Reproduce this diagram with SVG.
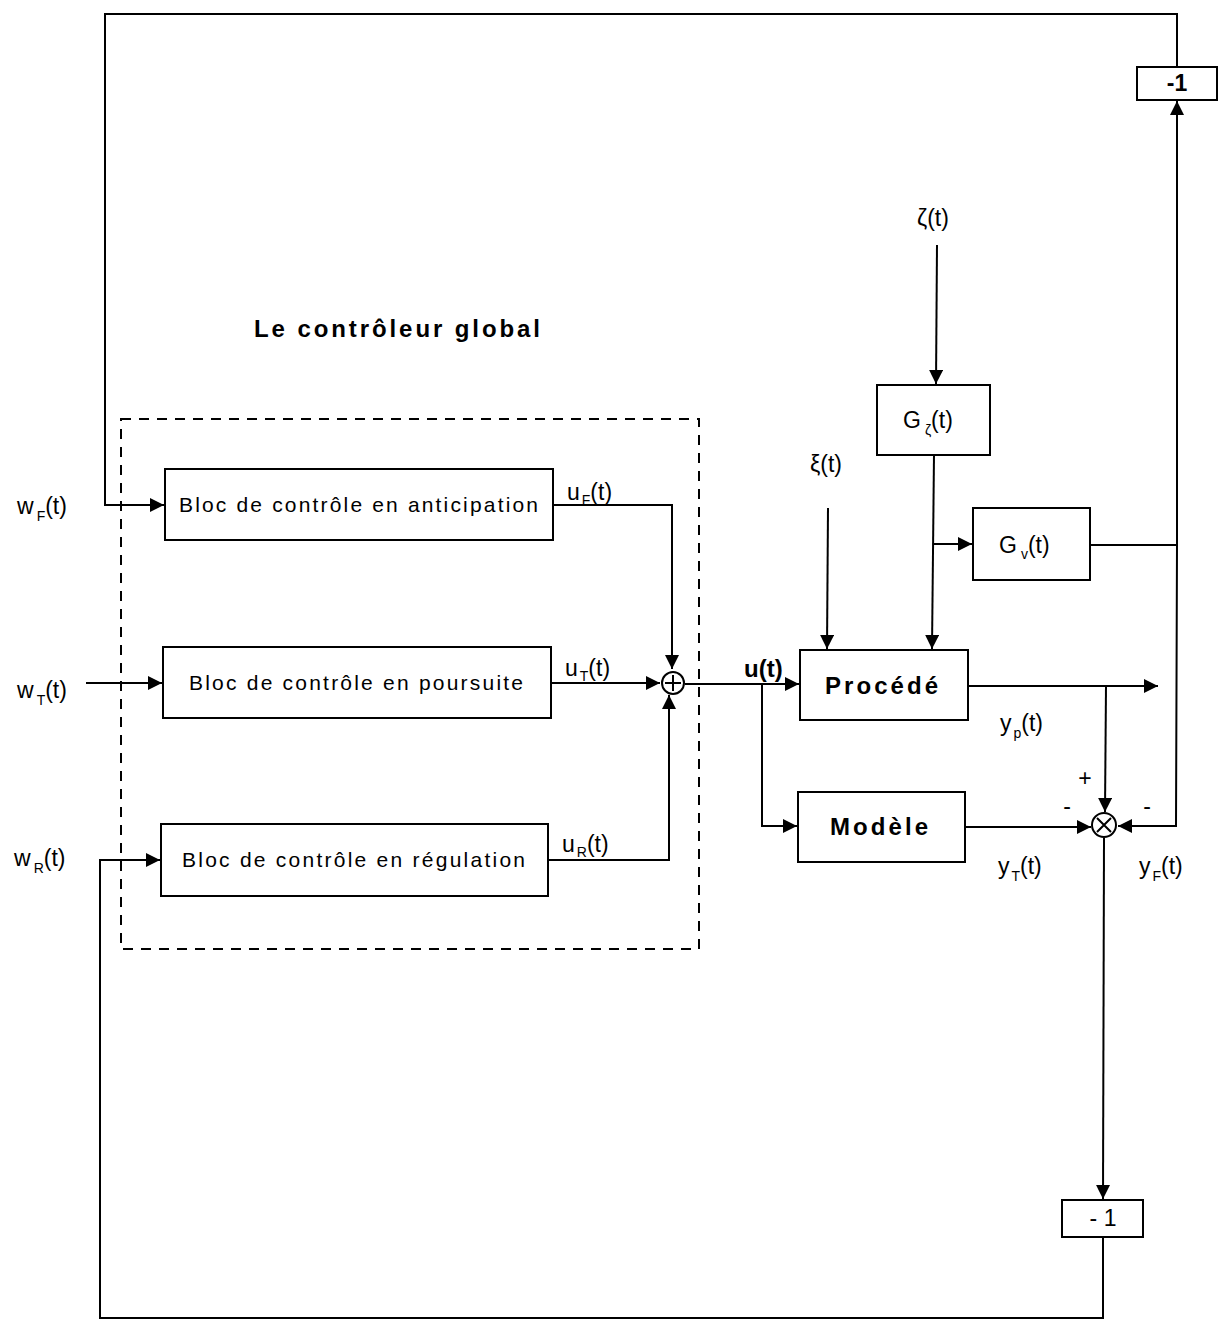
<svg xmlns="http://www.w3.org/2000/svg" width="1218" height="1323" viewBox="0 0 1218 1323">
<style>
.ln{fill:none;stroke:#000;stroke-width:2}
.bx{fill:#fff;stroke:#000;stroke-width:2}
.t{font-family:"Liberation Sans",Arial,sans-serif;font-size:23px;fill:#000}
.bt{font-family:"Liberation Sans",Arial,sans-serif;font-size:21px;fill:#000}
.b{font-family:"Liberation Sans",Arial,sans-serif;font-weight:bold;font-size:24px;fill:#000}
.s{font-size:14px}
</style>
<defs>
<marker id="a" viewBox="0 0 10 10" refX="10" refY="5" markerWidth="14" markerHeight="14" markerUnits="userSpaceOnUse" orient="auto">
<path d="M0,0 L10,5 L0,10 z" fill="#000"/>
</marker>
</defs>
<g id="connectors">
<polyline class="ln" points="1177,67 1177,14 105,14 105,505 164,505" marker-end="url(#a)"/>
<line class="ln" x1="86" y1="683" x2="162" y2="683" marker-end="url(#a)"/>
<polyline class="ln" points="1103,1237 1103,1318 100,1318 100,860 160,860" marker-end="url(#a)"/>
<polyline class="ln" points="553,505 672,505 672,669" marker-end="url(#a)"/>
<line class="ln" x1="551" y1="683" x2="660" y2="683" marker-end="url(#a)"/>
<polyline class="ln" points="548,860 669,860 669,695" marker-end="url(#a)"/>
<line class="ln" x1="685" y1="684" x2="799" y2="684" marker-end="url(#a)"/>
<polyline class="ln" points="762,684 762,826 797,826" marker-end="url(#a)"/>
<line class="ln" x1="937" y1="245" x2="936" y2="384" marker-end="url(#a)"/>
<line class="ln" x1="828" y1="508" x2="827" y2="649" marker-end="url(#a)"/>
<line class="ln" x1="934" y1="455" x2="932" y2="649" marker-end="url(#a)"/>
<line class="ln" x1="933" y1="544" x2="972" y2="544" marker-end="url(#a)"/>
<line class="ln" x1="1090" y1="545" x2="1176" y2="545"/>
<line class="ln" x1="1177" y1="545" x2="1177" y2="101" marker-end="url(#a)"/>
<polyline class="ln" points="1177,545 1176,826 1118,826" marker-end="url(#a)"/>
<line class="ln" x1="968" y1="686" x2="1158" y2="686" marker-end="url(#a)"/>
<line class="ln" x1="1106" y1="686" x2="1105" y2="812" marker-end="url(#a)"/>
<line class="ln" x1="965" y1="827" x2="1091" y2="827" marker-end="url(#a)"/>
<line class="ln" x1="1104" y1="838" x2="1103" y2="1199" marker-end="url(#a)"/>
</g>
<g id="controller">
<rect x="121" y="419" width="578" height="530" fill="none" stroke="#000" stroke-width="2" stroke-dasharray="10,8"/>
<text class="b" x="254" y="337" textLength="286" lengthAdjust="spacing">Le contrôleur global</text>
</g>
<g id="bloc-anticipation">
<rect class="bx" x="165" y="469" width="388" height="71"/>
<text class="bt" x="179" y="512" textLength="359" lengthAdjust="spacing">Bloc de contrôle en anticipation</text>
</g>
<g id="bloc-poursuite">
<rect class="bx" x="163" y="647" width="388" height="71"/>
<text class="bt" x="189" y="690" textLength="334" lengthAdjust="spacing">Bloc de contrôle en poursuite</text>
</g>
<g id="bloc-regulation">
<rect class="bx" x="161" y="824" width="387" height="72"/>
<text class="bt" x="182" y="867" textLength="343" lengthAdjust="spacing">Bloc de contrôle en régulation</text>
</g>
<g id="sum">
<circle cx="673" cy="683" r="11" fill="#fff" stroke="#000" stroke-width="2"/>
<path d="M673,675 V691 M665,683 H681" stroke="#000" stroke-width="2"/>
</g>
<g id="procede">
<rect class="bx" x="800" y="650" width="168" height="70"/>
<text class="b" x="825" y="694" textLength="113" lengthAdjust="spacing">Procédé</text>
</g>
<g id="modele">
<rect class="bx" x="798" y="792" width="167" height="70"/>
<text class="b" x="830" y="835" textLength="98" lengthAdjust="spacing">Modèle</text>
</g>
<g id="g-zeta">
<rect class="bx" x="877" y="385" width="113" height="70"/>
<text class="t" x="903" y="428">G<tspan class="s" dx="4" dy="7">ζ</tspan><tspan dy="-7">(t)</tspan></text>
</g>
<g id="g-v">
<rect class="bx" x="973" y="508" width="117" height="72"/>
<text class="t" x="999" y="553">G<tspan class="s" dx="4" dy="6">v</tspan><tspan dy="-6">(t)</tspan></text>
</g>
<g id="mult">
<circle cx="1104" cy="825" r="12" fill="#fff" stroke="#000" stroke-width="2"/>
<path d="M1097,818 L1111,832 M1111,818 L1097,832" stroke="#000" stroke-width="2"/>
</g>
<g id="neg-top">
<rect class="bx" x="1137" y="67" width="80" height="33"/>
<text class="t" x="1177" y="91" text-anchor="middle" font-weight="bold" font-size="18">-1</text>
</g>
<g id="neg-bottom">
<rect class="bx" x="1062" y="1200" width="81" height="37"/>
<text class="t" x="1103" y="1226" text-anchor="middle" font-size="18">- 1</text>
</g>
<g id="labels">
<text class="t" x="17" y="514">w<tspan class="s" dx="3" dy="7">F</tspan><tspan dy="-7">(t)</tspan></text>
<text class="t" x="17" y="698">w<tspan class="s" dx="3" dy="7">T</tspan><tspan dy="-7">(t)</tspan></text>
<text class="t" x="14" y="866">w<tspan class="s" dx="3" dy="7">R</tspan><tspan dy="-7">(t)</tspan></text>
<text class="t" x="567" y="500">u<tspan class="s" dx="2" dy="5">F</tspan><tspan dy="-5">(t)</tspan></text>
<text class="t" x="565" y="676">u<tspan class="s" dx="2" dy="5">T</tspan><tspan dy="-5">(t)</tspan></text>
<text class="t" x="562" y="852">u<tspan class="s" dx="2" dy="5">R</tspan><tspan dy="-5">(t)</tspan></text>
<text class="b" x="744" y="677" font-size="26">u(t)</text>
<text class="t" x="917" y="226">ζ(t)</text>
<text class="t" x="810" y="472">ξ(t)</text>
<text class="t" x="1000" y="731">y<tspan class="s" dx="2" dy="7">p</tspan><tspan dy="-7">(t)</tspan></text>
<text class="t" x="998" y="874">y<tspan class="s" dx="2" dy="7">T</tspan><tspan dy="-7">(t)</tspan></text>
<text class="t" x="1139" y="874">y<tspan class="s" dx="2" dy="7">F</tspan><tspan dy="-7">(t)</tspan></text>
<text class="t" x="1085" y="786" text-anchor="middle" font-size="12">+</text>
<text class="t" x="1067" y="814" text-anchor="middle" font-size="14">-</text>
<text class="t" x="1147" y="814" text-anchor="middle" font-size="14">-</text>
</g>
</svg>
